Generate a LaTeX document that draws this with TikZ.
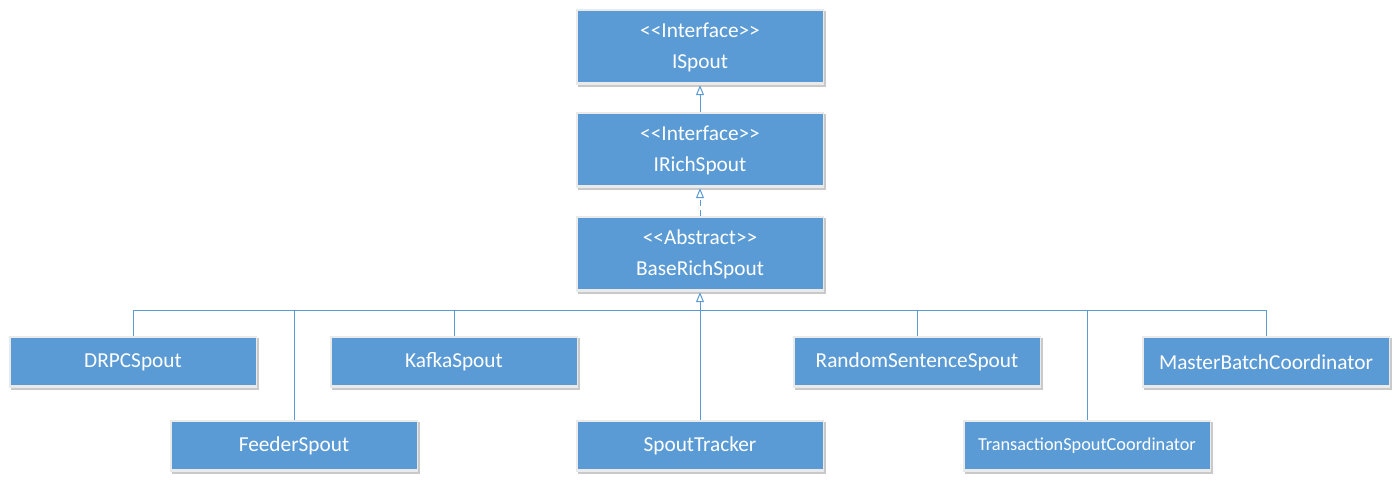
\documentclass[tikz,border=0pt]{standalone}
\usepackage{fontspec}
\setmainfont{Carlito}
\usetikzlibrary{arrows.meta,shadows}
\definecolor{boxblue}{HTML}{5B9BD5}
\definecolor{frame}{HTML}{EAEAEA}
\definecolor{linec}{HTML}{5B9BD5}
\newcommand{\ltlt}{<\kern0pt<}
\newcommand{\gtgt}{>\kern0pt>}
\begin{document}
\begin{tikzpicture}[x=1pt,y=-1pt,
  umlbox/.style={rectangle, minimum width=248pt, inner sep=0pt, fill=frame,
    drop shadow={shadow xshift=1.5pt, shadow yshift=-1.5pt, opacity=0.35, fill=black!60},
    text=white, align=center,
    font=\fontsize{21.3}{31}\selectfont,
    path picture={\fill[boxblue] ([shift={(1.5pt,3.5pt)}]path picture bounding box.south west) rectangle ([shift={(-1.5pt,-1.5pt)}]path picture bounding box.north east);}},
  tallbox/.style={umlbox, minimum height=76pt},
  rowbox/.style={umlbox, minimum height=52pt},
  conn/.style={draw=linec, line width=1pt},
  inh/.style={conn, -{Triangle[open, length=10pt, width=8pt, fill=white]}},
  real/.style={inh, dash pattern=on 6pt off 4pt}
]
\useasboundingbox (0,0) rectangle (1400,483);
\fill[white] (0,0) rectangle (1400,483);
\node[tallbox] (ispout) at (700,47) {\ltlt Interface\gtgt\\ISpout};
\node[tallbox] (irich) at (700,150) {\ltlt Interface\gtgt\\IRichSpout};
\node[tallbox] (base) at (700,254) {\ltlt Abstract\gtgt\\BaseRichSpout};
\node[rowbox] (drpc) at (133,362) {DRPCSpout};
\node[rowbox] (kafka) at (454,362) {KafkaSpout};
\node[rowbox] (random) at (917,362) {RandomSentenceSpout};
\node[rowbox] (master) at (1266,362) {MasterBatchCoordinator};
\node[rowbox] (feeder) at (294,446) {FeederSpout};
\node[rowbox] (tracker) at (700,446) {SpoutTracker};
\node[rowbox, font=\fontsize{18.3}{20}\selectfont] (tsc) at (1087,446) {TransactionSpoutCoordinator};
\coordinate (bus) at (700,310);
\draw[inh] (irich.north) -- (ispout.south);
\draw[real] (base.north) -- (irich.south);
\foreach \n in {drpc,kafka,random,master,feeder,tsc}
  \draw[conn] (\n.north) |- (bus);
\draw[inh] (tracker.north) -- (base.south);
\end{tikzpicture}
\end{document}
